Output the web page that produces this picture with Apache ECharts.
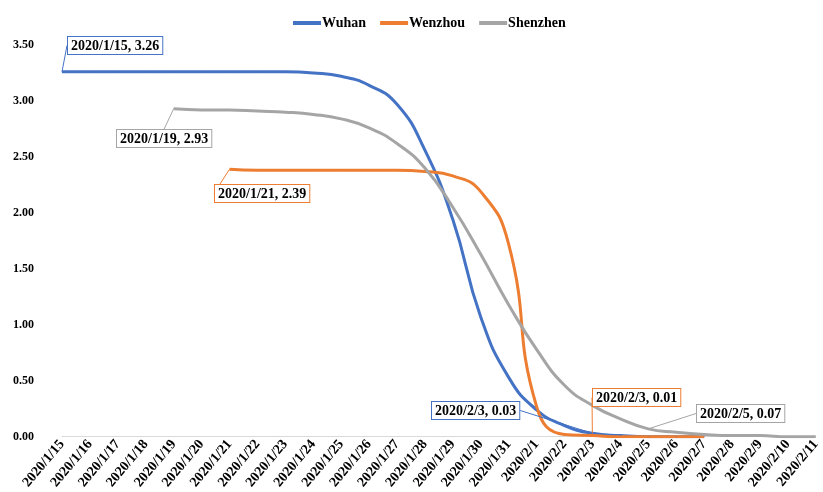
<!DOCTYPE html>
<html>
<head>
<meta charset="utf-8">
<script src="https://cdn.jsdelivr.net/npm/echarts@6/dist/echarts.min.js"></script>
<style>html,body{margin:0;padding:0;background:#fff;}#chart{width:823px;height:492px;}</style>
</head>
<body>
<div id="chart"></div>
<script>
const categories = ['2020/1/15','2020/1/16','2020/1/17','2020/1/18','2020/1/19','2020/1/20','2020/1/21','2020/1/22','2020/1/23','2020/1/24','2020/1/25','2020/1/26','2020/1/27','2020/1/28','2020/1/29','2020/1/30','2020/1/31','2020/2/1','2020/2/2','2020/2/3','2020/2/4','2020/2/5','2020/2/6','2020/2/7','2020/2/8','2020/2/9','2020/2/10','2020/2/11'];
const seriesNames = ['Wuhan','Wenzhou','Shenzhen'];
const wuhan = [3.26,3.26,3.26,3.26,3.26,3.26,3.26,3.26,3.26,3.25,3.22,3.14,2.97,2.56,1.94,1.07,0.53,0.24,0.10,0.03,0.01,0.00,0.00,0.00,null,null,null,null];
const wenzhou = [null,null,null,null,null,null,2.39,2.38,2.38,2.38,2.38,2.38,2.38,2.37,2.33,2.19,1.72,0.27,0.02,0.01,0.00,0.00,0.00,0.00,null,null,null,null];
const shenzhen = [null,null,null,null,2.93,2.92,2.92,2.91,2.90,2.88,2.84,2.76,2.62,2.40,2.05,1.63,1.18,0.78,0.46,0.28,0.16,0.07,0.04,0.02,0.01,0.01,0.00,0.00];
const labeledPoints = [[0,19],[6,19],[4,21]];
const yTicks = [0,0.5,1,1.5,2,2.5,3,3.5];

const colors = ['#4472C4','#ED7D31','#A5A5A5'];
// callout box top-left positions (style only)
const calloutPos = [
  {0:[68,37],19:[432,402]},
  {6:[215,185],19:[593,389]},
  {4:[117,130],21:[697,405]}
];
const FONT = 'Liberation Serif';
const values = [wuhan, wenzhou, shenzhen];

function buildData(arr, sIdx){
  return arr.map((v,i)=>{
    if (labeledPoints[sIdx].indexOf(i) >= 0 && v !== null) {
      return {value: v, label: {show: true}};
    }
    return v;
  });
}

const chart = echarts.init(document.getElementById('chart'), null, {renderer:'canvas'});
chart.setOption({
  animation: false,
  color: colors,
  legend: {
    data: seriesNames,
    left: 288, top: 11,
    itemWidth: 28, itemHeight: 4, itemGap: 14,
    icon: 'rect',
    textStyle: {fontFamily: FONT, fontWeight: 'bold', fontSize: 14, color: '#000', padding: [0,0,0,-4]}
  },
  grid: {left: 62, right: 2, top: 45, bottom: 54, containLabel: false},
  xAxis: {
    type: 'category',
    data: categories,
    boundaryGap: false,
    axisLine: {lineStyle: {color: '#d9d9d9', width: 1}},
    axisTick: {show: false},
    axisLabel: {interval: 0, rotate: 50, margin: 5, fontFamily: FONT, fontWeight: 'bold', fontSize: 14, color: '#000'},
    splitLine: {show: false}
  },
  yAxis: {
    type: 'value',
    min: yTicks[0], max: yTicks[yTicks.length-1], interval: 0.5,
    axisLine: {show: false}, axisTick: {show: false},
    splitLine: {show: false},
    axisLabel: {margin: 28, fontFamily: FONT, fontWeight: 'bold', fontSize: 12, color: '#000',
      formatter: v => v.toFixed(2)}
  },
  series: values.map((arr, s) => ({
    name: seriesNames[s],
    type: 'line',
    data: buildData(arr, s),
    smooth: 0.5,
    showSymbol: true,
    showAllSymbol: true,
    symbol: 'circle',
    symbolSize: 1,
    itemStyle: {color: colors[s]},
    lineStyle: {width: 3, color: colors[s]},
    connectNulls: false,
    label: {
      show: false,
      formatter: p => categories[p.dataIndex] + ', ' + Number(p.value).toFixed(2),
      fontFamily: FONT, fontWeight: 'bold', fontSize: 14, color: '#000',
      backgroundColor: '#fff', borderColor: colors[s], borderWidth: 1,
      padding: [2, 3, 1, 3]
    },
    labelLine: {show: true, lineStyle: {color: colors[s], width: 1}},
    labelLayout: function(params){
      const pos = calloutPos[s][params.dataIndex];
      if (!pos) return {};
      return {x: pos[0], y: pos[1], align: 'left', verticalAlign: 'top'};
    }
  }))
});
</script>
</body>
</html>
